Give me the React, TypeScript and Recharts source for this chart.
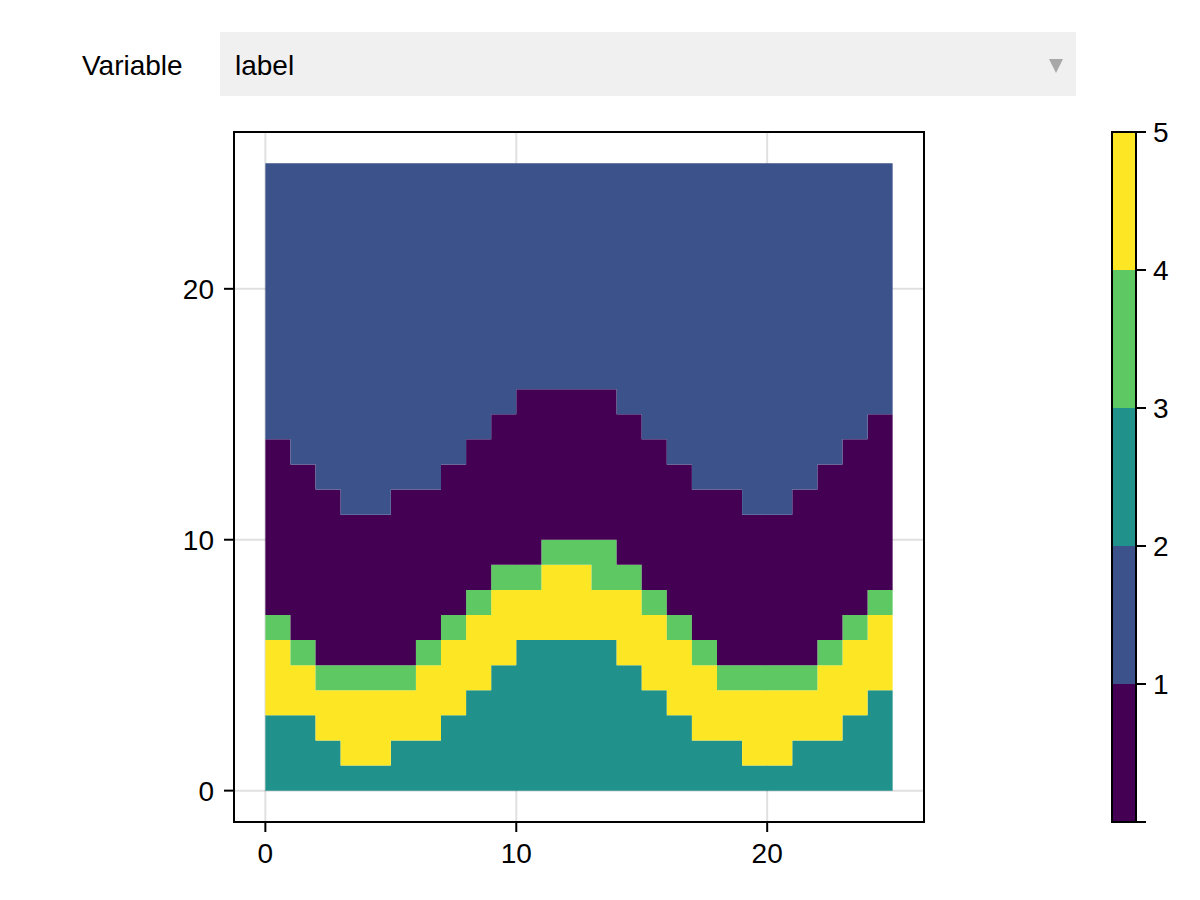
import React from 'react';
import { ComposedChart, Area, Bar, XAxis, YAxis, CartesianGrid } from 'recharts';

// ---- data ----
// heatmap columns (cell left edges); each cell is 1 unit wide
const columns = [0, 1, 2, 3, 4, 5, 6, 7, 8, 9, 10, 11, 12, 13, 14, 15, 16, 17, 18, 19, 20, 21, 22, 23, 24];
const gridTop = 25;
const gridRight = 25;
// upper boundary of each label band per column (bands stacked from the bottom)
const tealTop = [3, 3, 2, 1, 1, 2, 2, 3, 4, 5, 6, 6, 6, 6, 5, 4, 3, 2, 2, 1, 1, 2, 2, 3, 4]; // label 2
const yellowTop = [6, 5, 4, 4, 4, 4, 5, 6, 7, 8, 8, 9, 9, 8, 8, 7, 6, 5, 4, 4, 4, 4, 5, 6, 7]; // label 4
const greenTop = [7, 6, 5, 5, 5, 5, 6, 7, 8, 9, 9, 10, 10, 10, 9, 8, 7, 6, 5, 5, 5, 5, 6, 7, 8]; // label 3
const purpleTop = [14, 13, 12, 11, 11, 12, 12, 13, 14, 15, 16, 16, 16, 16, 15, 14, 13, 12, 12, 11, 11, 12, 13, 14, 15]; // label 0
// above purpleTop up to gridTop: label 1

const axisTicks = [0, 10, 20];
const axisDomain: [number, number] = [-1.25, 26.25];

const colorbarBounds = [0, 1, 2, 3, 4, 5];
const colorbarTicks = [0, 1, 2, 3, 4, 5];
const labelColors = ['#440154', '#3b528b', '#21918c', '#5ec962', '#fde725'];

const variableLabel = 'Variable';
const variableValue = 'label';

// ---- tables built for the library ----
const rows = columns.map((x, i) => ({
  x,
  teal: tealTop[i],
  yellow: yellowTop[i] - tealTop[i],
  green: greenTop[i] - yellowTop[i],
  purple: purpleTop[i] - greenTop[i],
  blue: gridTop - purpleTop[i],
}));
rows.push({ ...rows[rows.length - 1], x: gridRight });

const layers = [
  { key: 'teal', color: labelColors[2] },
  { key: 'yellow', color: labelColors[4] },
  { key: 'green', color: labelColors[3] },
  { key: 'purple', color: labelColors[0] },
  { key: 'blue', color: labelColors[1] },
];

const colorbarRow: Record<string, number | string> = { name: 'cb' };
colorbarBounds.slice(0, -1).forEach((lo, i) => {
  colorbarRow['b' + i] = colorbarBounds[i + 1] - lo;
});
const colorbarData = [colorbarRow];

const FONT = "'Liberation Sans', Arial, Helvetica, sans-serif";
const FS = 28;
const frameLine = { stroke: '#000', strokeWidth: 2 };
const tickStyle = { fill: '#000', fontSize: FS, fontFamily: FONT };

// plot rectangles (page pixels) set by the chart margins below
const MAIN = { left: 234, top: 132, width: 690, height: 690 };
const CBAR = { left: 1112, top: 132, width: 24, height: 690 };

export default function App() {
  return (
    <div style={{ position: 'absolute', left: 0, top: 0, width: 1200, height: 900, background: '#fff', overflow: 'hidden', fontFamily: FONT }}>
      {/* header: menu */}
      <svg width={1200} height={110} style={{ position: 'absolute', left: 0, top: 0 }}>
        <text x={82} y={75} fontSize={FS} fontFamily={FONT} fill="#000">{variableLabel}</text>
        <rect x={220} y={32} width={856} height={64} fill="#f0f0f0" />
        <text x={235} y={75} fontSize={FS} fontFamily={FONT} fill="#000">{variableValue}</text>
        <polygon points="1049,59 1063,59 1056,73" fill="#a8a8a8" />
      </svg>

      {/* main heatmap */}
      <div style={{ position: 'absolute', left: 0, top: 0 }}>
        <ComposedChart width={1000} height={900} data={rows} margin={{ top: MAIN.top, right: 1000 - MAIN.left - MAIN.width, bottom: 28, left: MAIN.left - 60 }}>
          <CartesianGrid stroke="rgba(0,0,0,0.12)" strokeWidth={2} />
          {layers.map((l) => (
            <Area
              key={l.key}
              type="stepAfter"
              dataKey={l.key}
              stackId="heat"
              fill={l.color}
              fillOpacity={1}
              stroke="none"
              dot={false}
              activeDot={false}
              isAnimationActive={false}
            />
          ))}
          <XAxis
            dataKey="x"
            type="number"
            domain={axisDomain}
            ticks={axisTicks}
            allowDataOverflow
            interval={0}
            height={50}
            tickSize={10}
            tickMargin={11}
            stroke="#000"
            strokeWidth={2}
            axisLine={frameLine}
            tickLine={frameLine}
            tick={tickStyle}
          />
          <YAxis
            type="number"
            domain={axisDomain}
            ticks={axisTicks}
            allowDataOverflow
            interval={0}
            width={60}
            tickSize={10}
            tickMargin={10}
            stroke="#000"
            strokeWidth={2}
            axisLine={frameLine}
            tickLine={frameLine}
            tick={tickStyle}
          />
        </ComposedChart>
      </div>

      {/* colorbar */}
      <div style={{ position: 'absolute', left: 1000, top: 0 }}>
        <ComposedChart
          width={200}
          height={900}
          data={colorbarData}
          barCategoryGap={0}
          margin={{ top: CBAR.top, right: 0, bottom: 900 - CBAR.top - CBAR.height, left: CBAR.left - 1000 }}
        >
          {colorbarBounds.slice(0, -1).map((_, i) => (
            <Bar key={i} dataKey={'b' + i} stackId="cb" fill={labelColors[i]} stroke="none" isAnimationActive={false} />
          ))}
          <XAxis dataKey="name" type="category" height={0} tick={false} tickLine={false} axisLine={false} />
          <YAxis
            orientation="right"
            type="number"
            domain={[0, 5]}
            ticks={colorbarTicks}
            interval={0}
            width={64}
            tickSize={10}
            tickMargin={7}
            stroke="#000"
            strokeWidth={2}
            axisLine={frameLine}
            tickLine={frameLine}
            tick={tickStyle}
            tickFormatter={(v: number) => (v === 0 ? '' : String(v))}
          />
        </ComposedChart>
      </div>

      {/* axis frames (box spines) */}
      <svg width={1200} height={900} style={{ position: 'absolute', left: 0, top: 0, pointerEvents: 'none' }}>
        <rect x={MAIN.left} y={MAIN.top} width={MAIN.width} height={MAIN.height} fill="none" stroke="#000" strokeWidth={2} />
        <rect x={CBAR.left} y={CBAR.top} width={CBAR.width} height={CBAR.height} fill="none" stroke="#000" strokeWidth={2} />
      </svg>
    </div>
  );
}
